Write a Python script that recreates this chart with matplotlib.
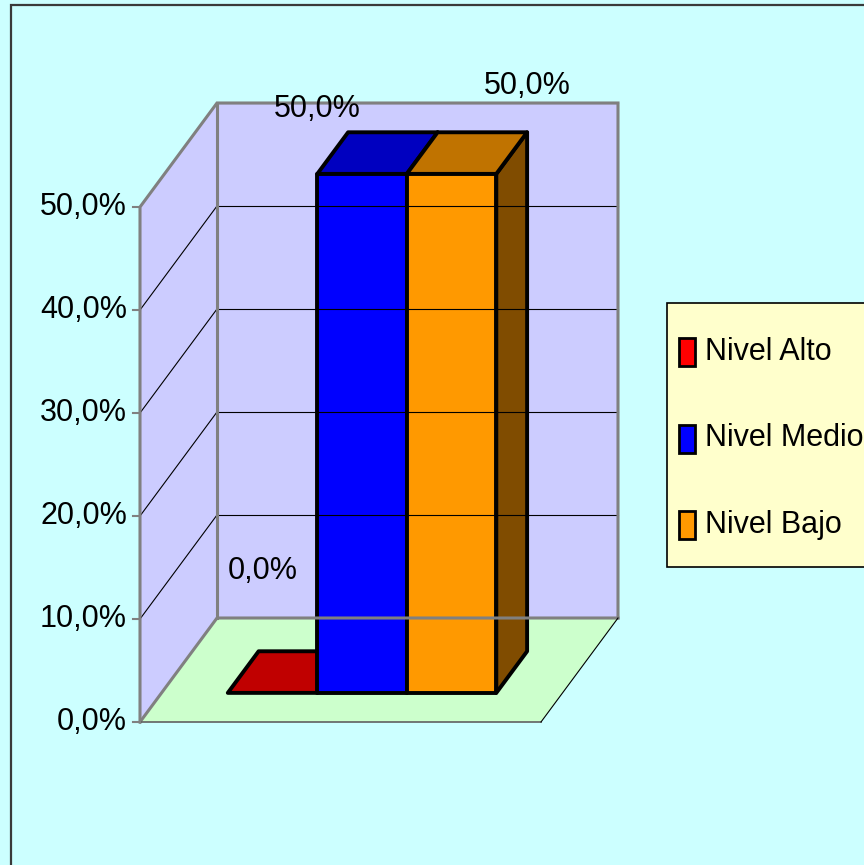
import matplotlib
matplotlib.use("Agg")
import matplotlib.pyplot as plt
from matplotlib.patches import Polygon, Rectangle

# ── data ────────────────────────────────────────────────────────────────
series   = ["Nivel Alto", "Nivel Medio", "Nivel Bajo"]
values   = [0.0, 50.0, 50.0]
y_ticks  = [0, 10, 20, 30, 40, 50]
front_c  = ["#FF0000", "#0000FF", "#FF9900"]
top_c    = ["#C00000", "#0000C0", "#C07300"]
side_c   = ["#800000", "#000080", "#804C00"]

pct_fmt = lambda v: f"{v:.1f}%".replace(".", ",")

plt.rcParams["font.family"] = ["Liberation Sans", "DejaVu Sans"]
FS = 22

W, H = 864, 865
fig = plt.figure(figsize=(W / 100, H / 100), dpi=100)
fig.patch.set_facecolor("#CCFFFF")
ax = fig.add_axes([0, 0, 1, 1])
ax.set_axis_off()

# y in percent, x in pixel-like units
PX = 10.3            # pixels per percent
Y0 = 722             # pixel row of 0 %
ax.set_xlim(0, W)
ax.set_ylim((Y0 - H) / PX, Y0 / PX)

# 3D box geometry
XL, XR = 140, 541    # front floor edge
DX, DY = 77, 104 / PX
YMAX = 50
grey = "#808080"

def P(pts, **kw):
    ax.add_patch(Polygon(pts, closed=True, **kw))

# chart area border
fig.patches.append(Rectangle((11 / W, -0.1), 2, 1.1 - 5 / H, transform=fig.transFigure,
                             fill=False, edgecolor="#3A3A3A", linewidth=1.6))

# walls & floor
P([(XL + DX, DY), (XR + DX, DY), (XR + DX, YMAX + DY), (XL + DX, YMAX + DY)],
  facecolor="#CCCCFF", edgecolor="none")
P([(XL, 0), (XL + DX, DY), (XL + DX, YMAX + DY), (XL, YMAX)],
  facecolor="#CCCCFF", edgecolor="none")
P([(XL, 0), (XR, 0), (XR + DX, DY), (XL + DX, DY)],
  facecolor="#CCFFCC", edgecolor="none")

# gridlines
for t in y_ticks[1:]:
    ax.plot([XL + DX, XR + DX], [t + DY, t + DY], color="black", lw=0.8)
    ax.plot([XL, XL + DX], [t, t + DY], color="black", lw=0.8)

# wall edges
ax.plot([XL, XL, XL + DX, XR + DX, XR + DX], [0, YMAX, YMAX + DY, YMAX + DY, DY],
        color=grey, lw=2.2, solid_joinstyle="miter")
ax.plot([XL + DX, XL + DX], [DY, YMAX + DY], color=grey, lw=2.2)
ax.plot([XL, XL + DX, XR + DX], [0, DY, DY], color=grey, lw=2.2)
ax.plot([XL, XR], [0, 0], color="#606060", lw=1.2)
ax.plot([XR, XR + DX], [0, DY], color="black", lw=0.8)

# y axis ticks & labels
for t in y_ticks:
    ax.plot([XL - 7, XL], [t, t], color=grey, lw=1.5)
    ax.text(XL - 13, t, pct_fmt(t), ha="right", va="center", fontsize=FS)

# bars (clustered, one category)
Z0, Z1 = 0.28, 0.68
BS = 10.38 / PX      # bars drawn marginally taller, as in the original
bx0 = XL + Z0 * DX
bx1 = XR + Z0 * DX
bw = 89.5
start = (bx0 + bx1) / 2 - bw * len(values) / 2
ddx, ddy = (Z1 - Z0) * DX, (Z1 - Z0) * DY
base = Z0 * DY
label_dx = [-10, -45, 76]
label_dy = [11.8, 6.3, 8.5]
for i, v in enumerate(values):
    x0, x1 = start + i * bw, start + (i + 1) * bw
    y0, y1 = base, base + v * BS
    kw = dict(edgecolor="black", linewidth=2.8, joinstyle="round")
    # side
    P([(x1, y0), (x1 + ddx, y0 + ddy), (x1 + ddx, y1 + ddy), (x1, y1)],
      facecolor=side_c[i], **kw)
    # top
    P([(x0, y1), (x1, y1), (x1 + ddx, y1 + ddy), (x0 + ddx, y1 + ddy)],
      facecolor=top_c[i], **kw)
    # front
    if v > 0:
        P([(x0, y0), (x1, y0), (x1, y1), (x0, y1)], facecolor=front_c[i], **kw)
    ax.text((x0 + x1) / 2 + label_dx[i], y1 + label_dy[i], pct_fmt(v),
            ha="center", va="center", fontsize=FS)

# legend
fig.patches.append(Rectangle((667 / W, 1 - 567 / H), 0.3, 264 / H,
                             transform=fig.transFigure, facecolor="#FFFFCC",
                             edgecolor="black", linewidth=1.2))
for i, name in enumerate(series):
    yc = 352 + i * 86.5
    fig.patches.append(Rectangle((679 / W, 1 - (yc + 14) / H), 16 / W, 28 / H,
                                 transform=fig.transFigure, facecolor=front_c[i],
                                 edgecolor="black", linewidth=2))
    fig.text(705 / W, 1 - yc / H, name, ha="left", va="center", fontsize=FS)

fig.savefig("out.png", dpi=100, facecolor=fig.get_facecolor())
